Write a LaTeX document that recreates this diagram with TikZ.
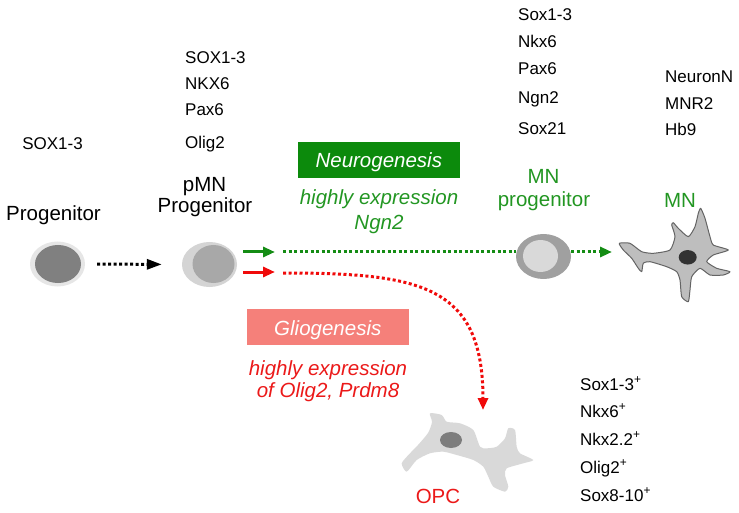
\documentclass[tikz,border=0pt]{standalone}
\usepackage{fontspec}
\setmainfont{Liberation Sans}
\usetikzlibrary{shapes.geometric,arrows.meta}
\definecolor{gtxt}{RGB}{34,150,34}
\definecolor{gbox}{RGB}{12,138,12}
\definecolor{garr}{RGB}{20,140,20}
\definecolor{rtxt}{RGB}{235,25,25}
\definecolor{rarr}{RGB}{240,10,10}
\definecolor{rbox}{RGB}{245,128,122}
\definecolor{outA}{RGB}{230,230,230}
\definecolor{inA}{RGB}{128,128,128}
\definecolor{outB}{RGB}{212,212,212}
\definecolor{inB}{RGB}{168,168,168}
\definecolor{outC}{RGB}{160,160,160}
\definecolor{inC}{RGB}{217,217,217}
\definecolor{neufill}{RGB}{190,190,190}
\definecolor{neuline}{RGB}{100,100,100}
\definecolor{neunuc}{RGB}{50,50,50}
\definecolor{opcfill}{RGB}{217,217,217}
\definecolor{opcnuc}{RGB}{125,125,125}
\tikzset{
  mk/.style={anchor=base west, inner sep=0pt, font=\fontsize{17}{20}\selectfont},
  mkc/.style={anchor=base, inner sep=0pt, font=\fontsize{17}{20}\selectfont},
  lbl/.style={anchor=base, inner sep=0pt, font=\fontsize{20.5}{24}\selectfont},
  ilbl/.style={anchor=base, inner sep=0pt, font=\fontsize{20.5}{24}\selectfont\itshape},
  cellout/.style={ellipse, inner sep=0pt, minimum width=55pt, minimum height=45pt},
  cellin/.style={ellipse, inner sep=0pt},
  boxlbl/.style={inner sep=0pt, minimum width=162pt, minimum height=36pt, text=white,
    font=\fontsize{20.5}{24}\selectfont\itshape, text height=17pt, text depth=1pt},
  dotline/.style={line width=3pt, dash pattern=on 3pt off 2.5pt},
  bigtip/.style={-{Triangle[length=15pt,width=10pt]}},
  smalltip/.style={-{Triangle[length=12pt,width=10pt]}},
}
\begin{document}
\begin{tikzpicture}[x=1pt,y=-1pt]
\useasboundingbox (0,0) rectangle (739,513);

% ---------- cells ----------
\node[cellout, fill=outA] (prog) at (57.5,264) {};
\node[cellin, fill=inA, minimum width=46pt, minimum height=38pt] (progin) at (58,264) {};
\node[cellout, fill=outB] (pmn) at (209.5,264.5) {};
\node[cellin, fill=inB, minimum width=42pt, minimum height=38pt] (pmnin) at (213.5,264) {};
\node[cellout, fill=outC] (mnp) at (543.5,256.5) {};
\node[cellin, fill=inC, minimum width=35pt, minimum height=32pt] (mnpin) at (540.5,256) {};

% MN neuron
\draw[fill=neufill, draw=neuline, line width=1pt, line join=round]
  plot[smooth cycle, tension=0.35] coordinates {
  (619.3,243.3) (630,243.3) (641.7,251.7) (653.3,253.3) (670,250) (675,236.7)
  (671.7,225) (673.3,222.7) (678.3,228.3) (688.3,236.7) (695,226.7) (698.3,213.3)
  (700.7,208.3) (705,218.3) (710,236.7) (713.3,245) (728.3,250) (713.3,255)
  (706.7,261.7) (716.7,268.3) (730,271.7) (723.3,275) (710,275) (700,268.3)
  (691.7,276.7) (690,290) (688.3,301.7) (681.7,296.7) (680,280) (676.7,271.7)
  (666.7,266.7) (650,261.7) (643.3,263.3) (641.7,271.7) (638.3,268.3) (631.7,258.3)
  (623.3,250)};
\node[ellipse, inner sep=0pt, minimum width=18pt, minimum height=14.5pt, fill=neunuc] (mnnuc) at (687.7,257.3) {};

% OPC
\fill[opcfill]
  plot[smooth cycle, tension=0.4] coordinates {
  (430,413.3) (441.7,415) (446.7,421.7) (460,423.3) (473.3,430) (480,446.7)
  (486.7,448.3) (496.7,446.7) (505,438.3) (508.3,428.3) (515,430) (516.7,446.7)
  (520,453.3) (533.3,460) (523.3,463.3) (506.7,468.3) (505,475) (508.3,486.7)
  (505,491.7) (493.3,486.7) (488.3,476.7) (483.3,466.7) (473.3,460) (456.7,455)
  (443.3,451.7) (430,453.3) (416.7,460) (406.7,471.7) (401.7,463.3) (410,453.3)
  (418,445) (428,433) (432,422)};
\node[ellipse, inner sep=0pt, minimum width=22pt, minimum height=16pt, fill=opcnuc] (opcnuc) at (451,440) {};

% ---------- connector end points ----------
\coordinate (g1) at (243,252);
\coordinate (g2) at (275,252);
\coordinate (g3) at (283,252);
\coordinate (mnend) at (612,252);
\coordinate (r1) at (243,272);
\coordinate (r2) at (275,272);
\coordinate (r3) at (283,273);
\coordinate (opctop) at (483,410);

% ---------- connectors ----------
\draw[dotline, black, bigtip, shorten <=12pt, shorten >=20pt] (prog.east) -- (pmn.west);
\draw[line width=3pt, garr, smalltip] (g1) -- (g2);
\draw[line width=3pt, rarr, smalltip] (r1) -- (r2);
\draw[dotline, garr] (g3) -- (g3 -| mnp.west);
\draw[dotline, garr, smalltip] (mnp.east |- mnend) -- (mnend);
\draw[dotline, rarr, smalltip] (r3) .. controls (420,273) and (483,285) .. (opctop);

% ---------- boxes ----------
\node[boxlbl, fill=gbox] (neuro) at (378.8,159.7) {Neurogenesis};
\node[boxlbl, fill=rbox] (glio) at (327.8,327) {Gliogenesis};

% ---------- labels ----------
\node[lbl] (lprog) at (53.5,220.7) {Progenitor};
\node[lbl] (lpmn1) at (204.5,191.7) {pMN};
\node[lbl] (lpmn2) at (205,213) {Progenitor};
\node[lbl, text=gtxt] (lmnp1) at (543.5,183.3) {MN};
\node[lbl, text=gtxt] (lmnp2) at (544,206.5) {progenitor};
\node[lbl, text=gtxt] (lmn) at (680,208) {MN};
\node[lbl, text=rtxt] (lopc) at (438,503) {OPC};

\node[ilbl, text=gtxt] (ghx1) at (379,205) {highly expression};
\node[ilbl, text=gtxt] (ghx2) at (379,230) {Ngn2};
\node[ilbl, text=rtxt] (rhx1) at (328,375) {highly expression};
\node[ilbl, text=rtxt] (rhx2) at (328,397) {of Olig2, Prdm8};

% ---------- marker lists ----------
\node[mkc] (m0) at (52.5,149.5) {SOX1-3};

\node[mk] (pa) at (185,63.5) {SOX1-3};
\node[mk] (pb) at (185,90) {NKX6};
\node[mk] (pc) at (185,115.5) {Pax6};
\node[mk] (pd) at (185,148.5) {Olig2};

\node[mk] (qa) at (518,21) {Sox1-3};
\node[mk] (qb) at (518,48) {Nkx6};
\node[mk] (qc) at (518,74.5) {Pax6};
\node[mk] (qd) at (518,104) {Ngn2};
\node[mk] (qe) at (518,135) {Sox21};

\node[mk] (na) at (665,82.5) {NeuronN};
\node[mk] (nb) at (665,110) {MNR2};
\node[mk] (nc) at (665,136) {Hb9};

\node[mk] (oa) at (580,390) {Sox1-3\textsuperscript{+}};
\node[mk] (ob) at (580,417) {Nkx6\textsuperscript{+}};
\node[mk] (oc) at (580,445) {Nkx2.2\textsuperscript{+}};
\node[mk] (od) at (580,473) {Olig2\textsuperscript{+}};
\node[mk] (oe) at (580,501) {Sox8-10\textsuperscript{+}};
\end{tikzpicture}
\end{document}
